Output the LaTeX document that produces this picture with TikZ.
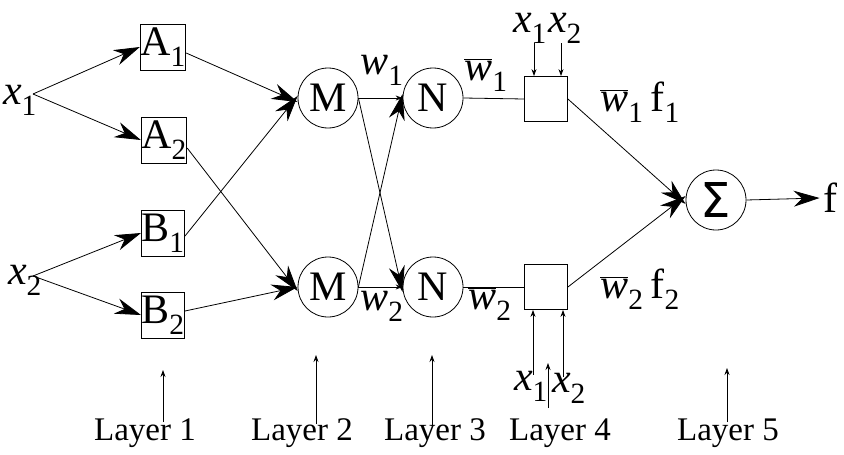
\documentclass[tikz,border=0pt]{standalone}
\usepackage{fontspec}
\setmainfont{Liberation Serif}
\newfontfamily\sumfont{DejaVu Sans}
\usetikzlibrary{arrows.meta}

\newcommand{\wbar}{$\overline{\mbox{\textit{w}}}$}

\begin{document}
\begin{tikzpicture}[x=1pt,y=-1pt,line width=0.8pt,
    box/.style={draw, minimum width=43pt, minimum height=46pt, inner sep=0pt,
      font=\fontsize{42}{44}\selectfont},
    neuron/.style={draw, circle, minimum size=60pt, inner sep=0pt,
      font=\fontsize{42}{44}\selectfont},
    txt/.style={inner sep=0pt, font=\fontsize{42}{44}\selectfont},
    laytxt/.style={inner sep=0pt, font=\fontsize{33}{35}\selectfont},
    bigarrow/.style={-{Stealth[length=26pt,width=16pt]}, },
    smallarrow/.style={-{Stealth[length=7pt,width=5pt]}}]
    \useasboundingbox (0,0) rectangle (844,455);

    % inputs
    \node[txt] (x1) at (20,100) {\textit{x}\textsubscript{1}};
    \node[txt] (x2) at (25,280) {\textit{x}\textsubscript{2}};
    \coordinate (x1o) at (33,94);
    \coordinate (x2o) at (33,276);

    % layer 1
    \node[box] (A1) at (163,47) {A\textsubscript{1}};
    \node[box] (A2) at (164,140) {A\textsubscript{2}};
    \node[box] (B1) at (163,233) {B\textsubscript{1}};
    \node[box] (B2) at (163,315) {B\textsubscript{2}};

    % layer 2 and 3
    \node[neuron] (M1) at (328,98) {M};
    \node[neuron] (M2) at (328,287) {M};
    \node[neuron] (N1) at (433,98) {N};
    \node[neuron] (N2) at (433,287) {N};

    % layer 4
    \node[box, minimum height=45pt] (G1) at (546,99) {};
    \node[box, minimum height=45pt] (G2) at (546,287) {};

    % layer 5
    \node[neuron] (S) at (716,200) {\sumfont\fontsize{48}{50}\selectfont Σ};
    \node[txt] (f) at (830,198) {f};

    % labels
    \node[txt] (w1) at (382,70) {\textit{w}\textsubscript{1}};
    \node[txt] (w2) at (382,306) {\textit{w}\textsubscript{2}};
    \node[txt] (wb1) at (486,75) {\wbar\textsubscript{1}};
    \node[txt] (wb2) at (490,304) {\wbar\textsubscript{2}};
    \node[txt] (wf1) at (640,102) {\wbar\textsubscript{1}\,f\textsubscript{1}};
    \node[txt] (wf2) at (640,289) {\wbar\textsubscript{2}\,f\textsubscript{2}};

    \node[txt] (t1) at (530,28) {\textit{x}\textsubscript{1}};
    \node[txt] (t2) at (565,28) {\textit{x}\textsubscript{2}};
    \node[txt] (b1) at (531,386) {\textit{x}\textsubscript{1}};
    \node[txt] (b2) at (569,388) {\textit{x}\textsubscript{2}};

    % connections
    \draw[bigarrow] (x1o) -- (A1.west);
    \draw[bigarrow] (x1o) -- (A2.west);
    \draw[bigarrow] (x2o) -- (B1.west);
    \draw[bigarrow] (x2o) -- (B2.west);

    \draw[bigarrow] ([yshift=-6pt]A1.east) -- ([yshift=-4pt]M1.west);
    \draw[bigarrow] ([yshift=-8pt]A2.east) -- ([yshift=-4pt]M2.west);
    \draw[bigarrow] ([yshift=-3pt]B1.east) -- ([yshift=2pt]M1.west);
    \draw[bigarrow] ([yshift=4pt]B2.east) -- (M2.west);

    \draw[smallarrow] (M1.east) -- (N1.west);
    \draw[smallarrow] (M2.east) -- (N2.west);
    \draw[bigarrow] (M1.east) -- ([yshift=-5pt]N2.west);
    \draw[bigarrow] (M2.east) -- ([yshift=4pt]N1.west);

    \draw (N1.east) -- (G1.west);
    \draw (N2.east) -- (G2.west);

    \coordinate (g1a) at ([xshift=-12pt]G1.north);
    \coordinate (g1b) at ([xshift=15pt]G1.north);
    \coordinate (g2a) at ([xshift=-13pt]G2.south);
    \coordinate (g2b) at ([xshift=17pt]G2.south);
    \draw[smallarrow] (t1.south -| g1a) -- (g1a);
    \draw[smallarrow] (t2.south -| g1b) -- (g1b);
    \draw[smallarrow] ([yshift=-4pt]b1.north -| g2a) -- (g2a);
    \draw[smallarrow] ([yshift=-4pt]b2.north -| g2b) -- (g2b);

    \draw[bigarrow] (G1.east) -- ([yshift=-4pt]S.west);
    \draw[bigarrow] (G2.east) -- ([yshift=4pt]S.west);
    \draw[bigarrow] (S.east) -- ([xshift=-3pt]f.west);

    % layer markers
    \node[laytxt] (L1) at (145,433) {Layer 1};
    \node[laytxt] (L2) at (302,433) {Layer 2};
    \node[laytxt] (L3) at (435,433) {Layer 3};
    \node[laytxt] (L4) at (560,433) {Layer 4};
    \node[laytxt] (L5) at (728,433) {Layer 5};
    \coordinate (p1) at (163,370);
    \coordinate (p2) at (316,355);
    \coordinate (p3) at (432,355);
    \coordinate (p4) at (548,363);
    \coordinate (p5) at (727,368);
    \draw[smallarrow] ([yshift=-4pt]L1.north -| p1) -- (p1);
    \draw[smallarrow] ([yshift=-6pt]L2.north -| p2) -- (p2);
    \draw[smallarrow] ([yshift=-8pt]L3.north -| p3) -- (p3);
    \draw[smallarrow] ([yshift=10pt]L4.north -| p4) -- (p4);
    \draw[smallarrow] ([yshift=-4pt]L5.north -| p5) -- (p5);
\end{tikzpicture}
\end{document}
